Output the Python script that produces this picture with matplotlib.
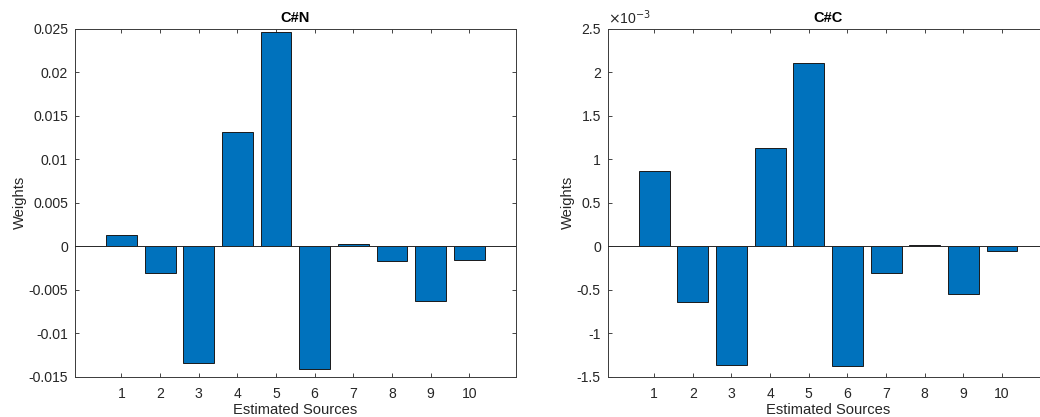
import matplotlib
matplotlib.use("Agg")
import matplotlib.pyplot as plt
from matplotlib.ticker import FuncFormatter, FixedLocator

plt.rcParams['font.family'] = ['Liberation Sans', 'DejaVu Sans']

sources = [1, 2, 3, 4, 5, 6, 7, 8, 9, 10]
weights_cn = [0.0013, -0.0031, -0.0134, 0.0131, 0.0246, -0.0141, 0.0003, -0.0017, -0.0063, -0.0016]
weights_cc = [0.87e-3, -0.64e-3, -1.36e-3, 1.13e-3, 2.10e-3, -1.37e-3, -0.31e-3, 0.01e-3, -0.55e-3, -0.05e-3]
titles = ["C#N", "C#C"]
yticks_cn = [-0.015, -0.01, -0.005, 0, 0.005, 0.01, 0.015, 0.02, 0.025]
yticks_cc = [-1.5e-3, -1e-3, -0.5e-3, 0, 0.5e-3, 1e-3, 1.5e-3, 2e-3, 2.5e-3]

BAR = '#0072BD'
AX = '#262626'
FS = 10.1

fig = plt.figure(figsize=(10.4, 4.17), dpi=100)
ax1 = fig.add_axes([75/1040, 1-377/417, 440.7/1040, 348.5/417])
ax2 = fig.add_axes([607.7/1040, 1-377/417, 440.7/1040, 348.5/417])

def style(ax, vals, yticks, title, scale):
    ax.bar(sources, vals, width=0.8, color=BAR, edgecolor='#1a1a1a', linewidth=0.7, zorder=2)
    ax.axhline(0, color='#262626', linewidth=0.7, zorder=3)
    ax.set_xlim(-0.2, 11.2)
    ax.set_ylim(yticks[0], yticks[-1])
    ax.xaxis.set_major_locator(FixedLocator(sources))
    ax.yaxis.set_major_locator(FixedLocator(yticks))
    ax.yaxis.set_major_formatter(FuncFormatter(lambda v, p: ('%g' % round(v / scale, 6))))
    ax.tick_params(direction='in', top=True, right=True, length=3.2, width=0.6,
                   colors=AX, labelsize=FS)
    ax.tick_params(axis='x', pad=7.5)
    ax.tick_params(axis='y', pad=5)
    for s in ax.spines.values():
        s.set_color('#3a3a3a')
        s.set_linewidth(0.7)
    ax.set_title(title, fontsize=10.5, fontweight='bold', pad=5, color='black')
    ax.set_xlabel("Estimated Sources", fontsize=10.6, color=AX, labelpad=1.5)
    ax.set_ylabel("Weights", fontsize=10.6, color=AX, labelpad=1.5)

style(ax1, weights_cn, yticks_cn, titles[0], 1.0)
style(ax2, weights_cc, yticks_cc, titles[1], 1e-3)
ax2.text(0.0, 1.005, r'$\times$10$^{-3}$', transform=ax2.transAxes, fontsize=FS,
         color=AX, ha='left', va='bottom')

fig.savefig("out.png", dpi=100)
